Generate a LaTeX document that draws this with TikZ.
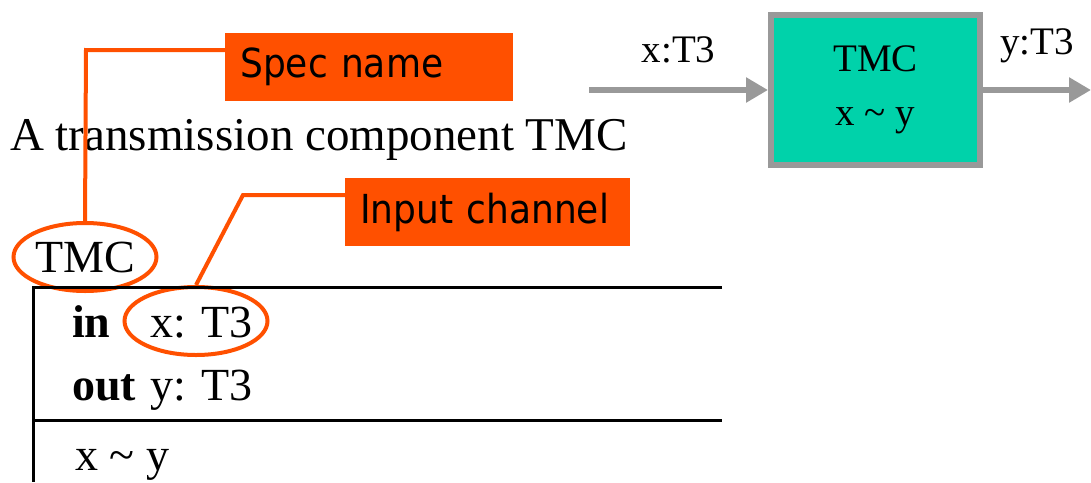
\documentclass[tikz,border=0pt]{standalone}
\usepackage{fontspec}
\setmainfont{Liberation Serif}
\newfontfamily\calloutfont{DejaVu Sans Condensed}
\usetikzlibrary{positioning}
\usetikzlibrary{shapes.geometric}
\usetikzlibrary{arrows.meta}
\definecolor{callorange}{RGB}{255,80,0}
\definecolor{wiregray}{RGB}{153,153,153}
\definecolor{tmcgreen}{RGB}{0,210,170}

\begin{document}
\begin{tikzpicture}[
            x = 1pt, y = -1pt, % one unit per pixel, downwards
            > = {Triangle[length=22pt,width=24pt]}, % arrow head style
            inner sep = 0pt
        ]

        \tikzstyle{serif}=[font=\fontsize{46}{52}\selectfont]
        \tikzstyle{small serif}=[font=\fontsize{39}{47}\selectfont]
        \tikzstyle{callout}=[
            fill = callorange,
            font = \calloutfont\fontsize{40}{46}\selectfont,
            anchor = north west,
            inner xsep = 15pt,
            align = left,
            minimum height = 68pt
        ]
        \tikzstyle{callline}=[draw = callorange, line width = 4pt]
        \tikzstyle{ring}=[ellipse, draw = callorange, line width = 4pt,
            minimum width = 143pt, minimum height = 68pt]
        \tikzstyle{tabline}=[draw = black, line width = 3pt]
        \tikzstyle{wire}=[draw = wiregray, line width = 6pt, ->]

        \useasboundingbox (0,0) rectangle (1091,482);

	% heading
        \node[font = \fontsize{47}{52}\selectfont, anchor = base west] (title) at (10,150) {A transmission component TMC};

	% spec name
        \node[callout, text width = 258pt] (specbox) at (225,33) {Spec name};
        \node[ring, serif] (tmcname) at (85,257) {TMC};
        \coordinate (specbend) at (86,50);

        \path[callline] ([yshift=17pt]specbox.west) -- (specbend) -- (tmcname.north);

	% input channel
        \node[callout, text width = 255pt] (inbox) at (345,178) {Input channel};
        \node[ring] (inring) at (196,321) {};
        \coordinate (inbend) at (243,195);

        \path[callline] ([yshift=17pt]inbox.west) -- (inbend) -- (inring.north);

	% schema
        \coordinate (tabtop) at (722,287);
        \coordinate (tabcorner) at (33,287);
        \coordinate (tabbottom) at (33,482);
        \coordinate (tabmidl) at (33,420);
        \coordinate (tabmidr) at (722,420);

        \path[tabline] (tabtop) -- (tabcorner) -- (tabbottom);
        \path[tabline] (tabmidl) -- (tabmidr);

        \node[serif, anchor = base west] (inkw) at (72,337) {\textbf{in}};
        \node[serif, anchor = base west] (inch) at (150,337) {x: T3};
        \node[serif, anchor = base west] (outkw) at (72,400) {\textbf{out}};
        \node[serif, anchor = base west] (outch) at (150,400) {y: T3};
        \node[serif, anchor = base west] (pred) at (75,470) {x \textasciitilde{} y};

	% component
        \node[small serif, draw = wiregray, line width = 6pt, fill = tmcgreen,
              minimum width = 209pt, minimum height = 150pt, align = center]
              (tmc) at (875.5,90) {TMC\\[7pt]x \textasciitilde{} y};
        \coordinate (src) at (589,90);
        \coordinate (snk) at (1091,90);

        \path[wire] (src) -- node[small serif, above = 24pt] (xlab) {x:T3} (tmc.west |- src);
        \path[wire] (tmc.east |- snk) -- node[small serif, above = 24pt] (ylab) {y:T3} (snk);

  \end{tikzpicture}
\end{document}
